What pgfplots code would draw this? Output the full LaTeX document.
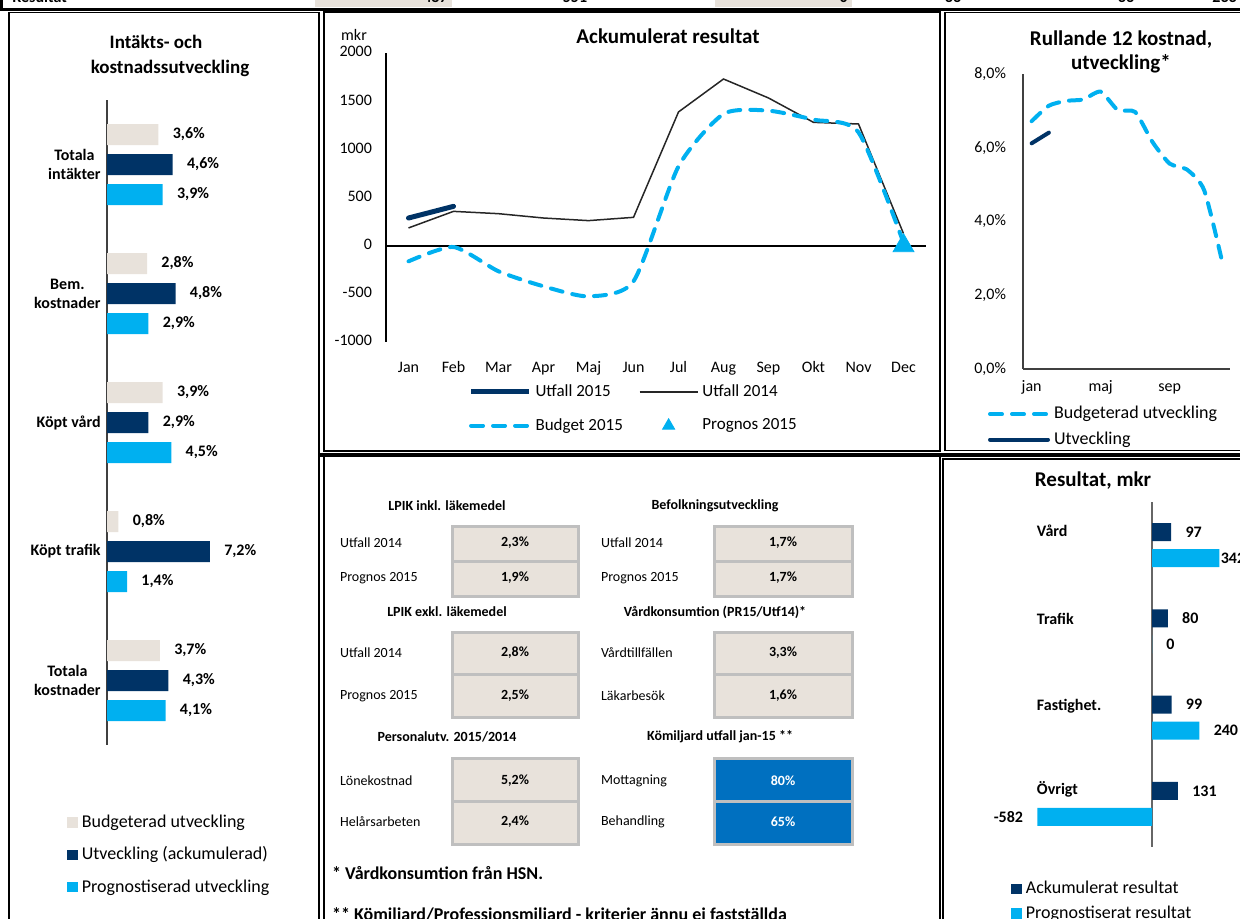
\documentclass[border=0pt]{standalone}
\usepackage{fontspec}
\setmainfont{Carlito}
\usepackage{pgfplots}
\pgfplotsset{compat=1.18}
\definecolor{beige}{HTML}{E8E2DB}
\definecolor{navy}{HTML}{003366}
\definecolor{cyanb}{HTML}{00B0F0}
\definecolor{boxblue}{HTML}{0070C0}
\definecolor{cellgray}{HTML}{BFBFBF}
\pgfplotsset{/pgf/number format/assume math mode=true}
\newcommand{\ftitle}{\bfseries\fontsize{10.5}{12}\selectfont}
\newcommand{\ftitleA}{\bfseries\fontsize{9.5}{12}\selectfont}
\newcommand{\flab}{\fontsize{8}{9.6}\selectfont}
\newcommand{\fleg}{\fontsize{9}{10.8}\selectfont}
\newcommand{\flegB}{\fontsize{8.5}{10.2}\selectfont}
\newcommand{\fsmall}{\fontsize{8}{9.6}\selectfont}
\newcommand{\ftab}{\fontsize{7}{8.4}\selectfont}
\pgfplotsset{
  sqlegend/.style={legend image code/.code={\draw[##1,draw=none] (0pt,-2.6pt) rectangle (5.2pt,2.6pt);}},
  linelegend/.style={legend image code/.code={\draw[mark repeat=2,mark phase=2,##1] plot coordinates {(0pt,0pt) (14.5pt,0pt) (29pt,0pt)};}},
  dashb/.style={cyanb, line width=2pt, dash pattern=on 6pt off 5pt, line cap=round},
}
\begin{document}
\begin{tikzpicture}
\path[use as bounding box] (0,0) rectangle (620pt,-459.5pt);
\begin{scope}[x=0.5pt,y=-0.5pt]
% top strip
\fill[beige] (315,-2) rectangle (452,7);
\fill[beige] (715,-2) rectangle (852,7);
\node[anchor=base west,font=\bfseries\flab,inner sep=0] at (12,3) {Resultat};
\node[anchor=base east,font=\bfseries\flab,inner sep=0] at (448,3) {487};
\node[anchor=base,font=\bfseries\flab,inner sep=0] at (575,3) {551};
\node[anchor=base east,font=\bfseries\flab,inner sep=0] at (848,3) {0};
\node[anchor=base,font=\bfseries\flab,inner sep=0] at (953,3) {33};
\node[anchor=base,font=\bfseries\flab,inner sep=0] at (1126,3) {33};
\node[anchor=base west,font=\bfseries\flab,inner sep=0] at (1212,3) {233};
\fill[black] (0,8) rectangle (1240,11);
\fill[black] (0,-2) rectangle (3,10);
% panel frames
\draw[line width=0.6pt] (9,12.5) rectangle (319,940);
\draw[line width=1pt] (324,12.5) rectangle (939.5,450.5);
\draw[line width=0.8pt] (945,12.5) rectangle (1250,450.5);
\draw[line width=1pt] (324,456) rectangle (940,940);
\fill[black] (320,453) rectangle (1240,457);
\draw[line width=0.8pt] (943,459) rectangle (1250,940);
% titles
\node[font=\ftitleA] at (156,42) {Intäkts- och};
\node[font=\ftitleA] at (170,68) {kostnadssutveckling};
\node[font=\ftitle] at (668,36) {Ackumulerat resultat};
\node[font=\flab] at (354,35) {mkr};
\node[font=\ftitle,align=center] at (1121,52) {Rullande 12 kostnad,\\utveckling*};
\node[font=\ftitle] at (1093,481) {Resultat, mkr};
% key figures table
\node[font=\bfseries\ftab] at (447,506) {LPIK inkl. läkemedel};
\node[font=\bfseries\ftab] at (715,506) {Befolkningsutveckling};
\node[font=\bfseries\ftab] at (447,612) {LPIK exkl. läkemedel};
\node[font=\bfseries\ftab] at (715,612) {Vårdkonsumtion (PR15/Utf14)*};
\node[font=\bfseries\ftab] at (447,737) {Personalutv. 2015/2014};
\node[font=\bfseries\ftab] at (720,737) {Kömiljard utfall jan-15 **};
\begin{scope}[cellgray, line width=1.5pt]
\draw[fill=beige] (452,526) rectangle (578,561);
\draw[fill=beige] (452,561) rectangle (578,596);
\draw[fill=beige] (714,526) rectangle (852,561);
\draw[fill=beige] (714,561) rectangle (852,596);
\draw[fill=beige] (452,632) rectangle (578,674);
\draw[fill=beige] (452,674) rectangle (578,717);
\draw[fill=beige] (714,632) rectangle (852,674);
\draw[fill=beige] (714,674) rectangle (852,717);
\draw[fill=beige] (452,758) rectangle (578,801);
\draw[fill=beige] (452,801) rectangle (578,844);
\draw[fill=boxblue] (714,758) rectangle (852,801);
\draw[fill=boxblue] (714,801) rectangle (852,844);
\end{scope}
\begin{scope}[every node/.style={font=\ftab,anchor=west}]
\node at (333,543) {Utfall 2014};
\node at (333,578) {Prognos 2015};
\node at (594,543) {Utfall 2014};
\node at (594,578) {Prognos 2015};
\node at (333,653) {Utfall 2014};
\node at (333,696) {Prognos 2015};
\node at (594,653) {Vårdtillfällen};
\node at (594,696) {Läkarbesök};
\node at (333,781) {Lönekostnad};
\node at (333,822) {Helårsarbeten};
\node at (594,781) {Mottagning};
\node at (594,822) {Behandling};
\end{scope}
\begin{scope}[every node/.style={font=\bfseries\ftab}]
\node at (515,543) {2,3\%};
\node at (515,578) {1,9\%};
\node at (783,543) {1,7\%};
\node at (783,578) {1,7\%};
\node at (515,653) {2,8\%};
\node at (515,696) {2,5\%};
\node at (783,653) {3,3\%};
\node at (783,696) {1,6\%};
\node at (515,781) {5,2\%};
\node at (515,822) {2,4\%};
\node[text=white] at (783,781) {80\%};
\node[text=white] at (783,822) {65\%};
\end{scope}
\node[anchor=west,font=\bfseries\fontsize{9}{11}\selectfont] at (325,873) {* Vårdkonsumtion från HSN.};
\node[anchor=west,font=\bfseries\fontsize{9}{11}\selectfont] at (325,916) {** Kömiljard/Professionsmiljard - kriterier ännu ej fastställda};
\end{scope}

% ---------- Panel A: horizontal bars ----------
\begin{axis}[
  at={(53.5pt,-50pt)}, anchor=north west,
  scale only axis, width=100pt, height=322.5pt,
  xmin=0, xmax=14, ymin=-0.5, ymax=4.5, y dir=reverse,
  axis y line=left, axis x line=none,
  axis line style={-, draw=black!75, line width=0.6pt},
  ytick={0,1,2,3,4},
  yticklabels={{Totala\\intäkter},{Bem.\\kostnader},{Köpt vård},{Köpt trafik},{Totala\\kostnader}},
  yticklabel style={font=\bfseries\fsmall, align=center, inner xsep=0pt, xshift=-3pt},
  major tick length=0pt,
  xbar, bar width=10.5pt, bar shift=0pt,
  point meta=x,
  nodes near coords={\pgfmathprintnumber[fixed,fixed zerofill,precision=1,use comma]{\pgfplotspointmeta}\%},
  nodes near coords style={font=\bfseries\fsmall, inner xsep=7pt, text=black},
  sqlegend,
  legend style={at={(-0.23,-0.095)}, anchor=north west, draw=none, fill=none, font=\fleg, row sep=4.3pt},
  legend cell align=left,
  clip=false,
]
\addplot[fill=beige, draw=none] coordinates {(3.6,-0.2326) (2.8,0.7674) (3.9,1.7674) (0.8,2.7674) (3.7,3.7674)};
\addplot[fill=navy, draw=none] coordinates {(4.6,0) (4.8,1) (2.9,2) (7.2,3) (4.3,4)};
\addplot[fill=cyanb, draw=none] coordinates {(3.9,0.2326) (2.9,1.2326) (4.5,2.2326) (1.4,3.2326) (4.1,4.2326)};
\legend{Budgeterad utveckling, Utveckling (ackumulerad), Prognostiserad utveckling}
\end{axis}

% ---------- Panel B: accumulated result ----------
\begin{axis}[
  at={(193pt,-26.5pt)}, anchor=north west,
  scale only axis, width=270pt, height=144.5pt,
  xmin=-0.5, xmax=11.5, ymin=-1000, ymax=2000,
  xtick={0,...,11}, xticklabels={Jan,Feb,Mar,Apr,Maj,Jun,Jul,Aug,Sep,Okt,Nov,Dec},
  ytick={-1000,-500,0,500,1000,1500,2000},
  /pgf/number format/1000 sep={},
  axis y line=left, axis x line=bottom,
  axis line style={-}, x axis line style={draw=none},
  y axis line style={black, line width=0.6pt},
  major tick length=0pt,
  tick label style={font=\flab},
  typeset ticklabels with strut,
  xticklabel style={yshift=-5pt},
  yticklabel style={xshift=-3.5pt},
  extra y ticks={0}, extra y tick labels={},
  extra y tick style={grid=major, major grid style={black, line width=1pt}},
  linelegend,
  legend columns=2,
  legend style={at={(0.141,-0.118)}, anchor=north west, draw=none, fill=none, font=\flegB, row sep=5.5pt,
    /tikz/every even column/.append style={column sep=6pt}},
  legend cell align=left,
  clip=false,
]
\addlegendimage{navy, line width=2.5pt}
\addlegendentry{Utfall 2015}
\addlegendimage{black!85, line width=0.75pt}
\addlegendentry{Utfall 2014}
\addlegendimage{dashb}
\addlegendentry{Budget 2015}
\addlegendimage{only marks, mark=triangle*, mark size=3.5pt, cyanb}
\addlegendentry{Prognos 2015}
\addplot[black!85, line width=0.75pt, forget plot] coordinates {(0,184) (1,356) (2,332) (3,287) (4,260) (5,294) (6,1388) (7,1730) (8,1533) (9,1280) (10,1263) (11,125)};
\addplot[dashb, smooth, tension=0.4, forget plot] coordinates {(0,-163) (1,-14) (2,-266) (3,-422) (4,-526) (5,-370) (6,823) (7,1367) (8,1401) (9,1308) (10,1176) (11,30)};
\addplot[navy, line width=2.5pt, line cap=round, forget plot] coordinates {(0,287) (1,408)};
\addplot[only marks, mark=triangle*, mark size=6pt, cyanb, forget plot] coordinates {(11,0)};
\end{axis}

% ---------- Panel C: rolling 12 ----------
\begin{axis}[
  at={(511.5pt,-37pt)}, anchor=north west,
  scale only axis, width=103.5pt, height=147.5pt,
  xmin=0.5, xmax=12.5, ymin=0, ymax=8,
  xtick={1,5,9}, xticklabels={jan,maj,sep},
  ytick={0,2,4,6,8},
  yticklabel={\pgfmathprintnumber[fixed,fixed zerofill,precision=1,use comma]{\tick}\%},
  axis lines=left, axis line style={-, black!75, line width=0.6pt},
  major tick length=0pt, tick label style={font=\flab},
  typeset ticklabels with strut,
  yticklabel style={xshift=-5pt}, xticklabel style={yshift=-1pt},
  linelegend,
  legend style={at={(-0.2,-0.098)}, anchor=north west, draw=none, fill=none, font=\fleg, row sep=1pt},
  legend cell align=left,
  clip=false,
]
\addplot[dashb, smooth, tension=0.4] coordinates {(1,6.72) (2,7.14) (3,7.27) (4,7.31) (5,7.52) (6,7.02) (7,6.97) (8,6.16) (9,5.57) (10,5.41) (11,4.85) (12,3.00)};
\addlegendentry{Budgeterad utveckling}
\addplot[navy, line width=2pt, line cap=round] coordinates {(1,6.12) (2,6.41)};
\addlegendentry{Utveckling}
\end{axis}

% ---------- Panel E: result per area ----------
\begin{axis}[
  at={(514.95pt,-251pt)}, anchor=north west,
  scale only axis, width=105.4pt, height=172.5pt,
  xmin=-620, xmax=450, ymin=-0.5, ymax=3.5, y dir=reverse,
  axis y line=left, axis x line=bottom, axis line style={draw=none},
  xtick=\empty,
  ytick={-0.17,0.85,1.87,2.83}, yticklabels={Vård,Trafik,Fastighet.,Övrigt},
  yticklabel style={anchor=west, font=\bfseries\fsmall},
  major tick length=0pt,
  extra x ticks={0}, extra x tick labels={},
  extra x tick style={grid=major, major grid style={black!60, line width=0.8pt}},
  xbar, bar width=9pt, bar shift=0pt,
  point meta=x,
  visualization depends on={rawx \as \xv},
  nodes near coords,
  nodes near coords style={font=\bfseries\fsmall, inner xsep=7pt, text=black, xshift={(\xv>300)*(-6.5pt)}},
  sqlegend,
  legend style={at={(-0.118,-0.075)}, anchor=north west, draw=none, fill=none, font=\fleg, row sep=0.5pt},
  legend cell align=left,
  clip=false,
]
\addplot[fill=navy, draw=none] coordinates {(97,-0.15) (80,0.85) (99,1.85) (131,2.85)};
\addplot[fill=cyanb, draw=none] coordinates {(342,0.15) (0,1.15) (240,2.15) (-582,3.15)};
\legend{Ackumulerat resultat, Prognostiserat resultat}
\end{axis}
\end{tikzpicture}
\end{document}
